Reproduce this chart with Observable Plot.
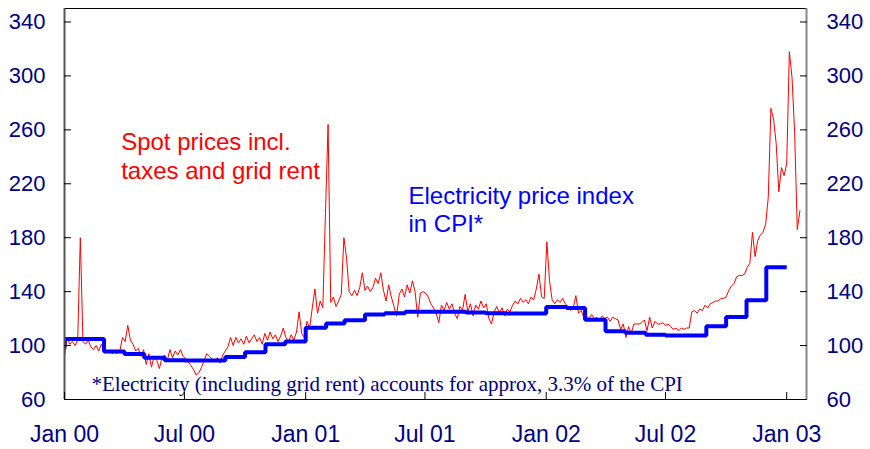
<!DOCTYPE html>
<html><head><meta charset="utf-8">
<script src="https://cdn.jsdelivr.net/npm/d3@7"></script>
<script src="https://cdn.jsdelivr.net/npm/@observablehq/plot@0.6"></script>
<style>html,body{margin:0;padding:0;background:#fff;} #chart svg{display:block}</style>
</head><body><div id="chart"></div>
<script>
// Spot prices incl. taxes and grid rent (index), one reading every 4 days from 2000-01-01
const spotStart = "2000-01-01";
const spotStepDays = 4;
const spotValues = [
  92,106,101,103,100,104,180,103,101,104,
  99,97,100,96,101,97,95,96,94,95,
  94,96,106,103,115,104,101,96,98,92,
  97,86,94,84,92,89,83,91,93,89,
  97,91,96,93,97,92,
  90,88,85,82,
  78,80,84,89,94,92,90,88,91,87,
  93,96,99,106,100,106,102,105,101,107,
  102,105,108,103,106,101,109,104,110,105,
  108,103,107,113,106,103,108,104,110,125,
  109,106,
  118,113,128,142,124,133,128,198,
  264,132,136,129,133,138,180,165,140,137,
  141,137,143,154,141,144,140,143,150,146,
  154,141,133,145,136,129,122,138,142,136,
  145,139,148,140,121,139,140,139,
  136,131,128,124,117,130,126,132,127,131,
  124,120,129,126,138,125,131,122,130,127,
  133,128,131,120,116,125,129,124,128,122,
  127,125,130,133,131,135,132,134,131,136,
  134,142,153,136,135,177,
  148,134,131,134,132,135,131,129,126,128,
  137,124,126,121,122,120,123,120,121,119,
  122,120,121,118,121,120,119,112,116,106,
  114,109,116,116,116,117,119,111,121,113,
  118,116,116,117,115,116,
  114,112,113,111,113,112,113,113,125,126,
  124,127,126,130,128,131,132,133,133,135,
  135,136,141,144,146,151,152,152,153,158,
  161,184,166,178,182,184,190,210,276,268,
  250,214,232,226,235,318,299,258,186,200
];

// Electricity price index in CPI, monthly
const cpiMonths = [
  "1999-12",
  "2000-01","2000-02","2000-03","2000-04","2000-05","2000-06","2000-07","2000-08","2000-09","2000-10","2000-11","2000-12",
  "2001-01","2001-02","2001-03","2001-04","2001-05","2001-06","2001-07","2001-08","2001-09","2001-10","2001-11","2001-12",
  "2002-01","2002-02","2002-03","2002-04","2002-05","2002-06","2002-07","2002-08","2002-09","2002-10","2002-11","2002-12"
];
const cpiValues = [
  98,
  104.8,104.8,95.6,93.8,91,89.2,89,89,91.6,95,101,103,
  113.3,116.3,118.7,123,124,125,125,125,124.5,124,123.7,123.7,
  128.6,127.8,119.2,110.6,109.6,108.1,107.4,107.4,114.3,121.2,133.6,158
];

const yTicks = [60,100,140,180,220,260,300,340];
const xTickDates = ["2000-01-01","2000-07-01","2001-01-01","2001-07-01","2002-01-01","2002-07-01","2003-01-01"];
const xTickLabels = ["Jan 00","Jul 00","Jan 01","Jul 01","Jan 02","Jul 02","Jan 03"];
const spotLabel = "Spot prices incl.\ntaxes and grid rent";
const cpiLabel = "Electricity price index\nin CPI*";
const footnote = "*Electricity (including grid rent) accounts for approx, 3.3% of the CPI";

// ---- build tables ----
const startDate = new Date(spotStart + "T00:00:00Z");
const spot = spotValues.map((v, i) => ({date: d3.utcDay.offset(startDate, i * spotStepDays), value: v}));
const cpi = [];
cpiMonths.forEach((m, i) => {
  const s = new Date(m + "-01T00:00:00Z");
  cpi.push({date: s, value: cpiValues[i]});
  cpi.push({date: d3.utcMonth.offset(s, 1), value: cpiValues[i]});
});
const xTicks = xTickDates.map(d => new Date(d + "T00:00:00Z"));
const xDomain = [new Date("2000-01-01T00:00:00Z"), new Date("2003-01-31T00:00:00Z")];
const navy = "#000080";

const chart = Plot.plot({
  width: 870,
  height: 449,
  marginLeft: 64,
  marginRight: 64,
  marginTop: 8,
  marginBottom: 50,
  style: {fontFamily: "'Liberation Sans', Arial, sans-serif", background: "#fff"},
  x: {type: "utc", domain: xDomain, label: null},
  y: {domain: [60, 350], label: null},
  marks: [
    Plot.line(spot, {x: "date", y: "value", stroke: "#ff0000", strokeWidth: 1, clip: true}),
    Plot.line(cpi, {x: "date", y: "value", stroke: "#0000ff", strokeWidth: 4, strokeLinejoin: "miter", strokeLinecap: "butt", clip: true}),
    Plot.frame({stroke: "#000", strokeWidth: 1}),
    Plot.ruleX([xDomain[0]], {stroke: "#555", strokeWidth: 2}),
    Plot.ruleX([xDomain[1]], {stroke: "#888", strokeWidth: 2}),
    Plot.axisY({anchor: "left", ticks: yTicks, tickSize: -7, tickPadding: 26, fontSize: 22, fill: navy, stroke: "#000"}),
    Plot.axisY({anchor: "right", ticks: yTicks, tickSize: -7, tickPadding: 27, fontSize: 22, fill: navy, stroke: "#000", textAnchor: "start"}),
    Plot.axisX({anchor: "bottom", ticks: xTicks, tickFormat: (d, i) => xTickLabels[i], tickSize: -7, tickPadding: 33, fontSize: 23, fill: navy, stroke: "#000"}),
    Plot.text([spotLabel], {x: new Date("2000-03-27T00:00:00Z"), y: 223.9, text: d => d, textAnchor: "start", lineAnchor: "bottom", lineHeight: 1.2, fontSize: 24, fill: "#ff0000"}),
    Plot.text([cpiLabel], {x: new Date("2001-06-06T00:00:00Z"), y: 183.9, text: d => d, textAnchor: "start", lineAnchor: "bottom", lineHeight: 1.2, fontSize: 24, fill: "#0000ff"}),
    Plot.text([footnote], {x: new Date("2000-02-11T00:00:00Z"), y: 66.4, text: d => d, textAnchor: "start", lineAnchor: "bottom", fontSize: 21, fontFamily: "'Liberation Serif', 'Times New Roman', serif", fill: navy})
  ]
});
document.getElementById("chart").appendChild(chart);
</script>
</body></html>
